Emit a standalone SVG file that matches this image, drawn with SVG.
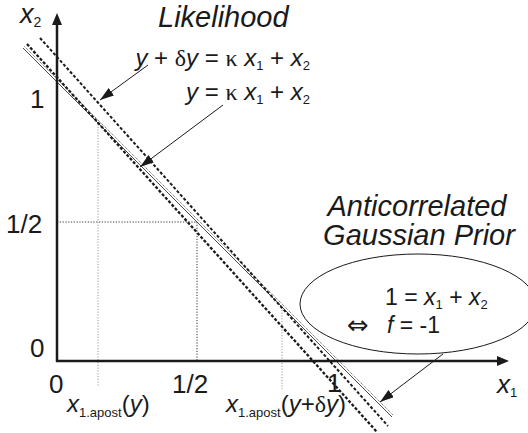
<svg xmlns="http://www.w3.org/2000/svg" width="528" height="433" viewBox="0 0 528 433">
<style>
text{font-family:"Liberation Sans","Arial",sans-serif;fill:#1a1a1a}
.it{font-style:italic}
.sym{font-family:"Liberation Serif","DejaVu Serif",serif;font-style:normal}
.arr{font-family:"DejaVu Sans","Noto Sans",sans-serif;font-size:26px}
.tick{font-size:26px}
.axis{stroke:#1a1a1a;stroke-width:2.5;fill:none}
.guide{stroke:#333;stroke-width:1;stroke-dasharray:1.2,1.6;fill:none}
.guideL{stroke:#999;stroke-width:1;stroke-dasharray:1.2,1.6;fill:none}
.dashA{stroke:#1a1a1a;stroke-width:2;stroke-dasharray:3,2;fill:none}
.dashB{stroke:#1a1a1a;stroke-width:2.3;stroke-dasharray:3,1.8;fill:none}
.thin{stroke:#1a1a1a;stroke-width:0.8;fill:none}
.thinDot{stroke:#333;stroke-width:0.8;stroke-dasharray:1,1;fill:none}
.conn{stroke:#1a1a1a;stroke-width:1;fill:none}
</style>
<defs>
<marker id="ah" markerUnits="userSpaceOnUse" markerWidth="16" markerHeight="10" refX="14" refY="4.5" orient="auto">
<path d="M0,0 L14,4.5 L0,9 z" fill="#1a1a1a"/>
</marker>
<marker id="axh" markerUnits="userSpaceOnUse" markerWidth="14" markerHeight="12" refX="0" refY="5" orient="auto">
<path d="M0,0 L12,5 L0,10 z" fill="#1a1a1a"/>
</marker>
</defs>

<g id="guides">
<line class="guide" x1="57" y1="222" x2="197" y2="222"/>
<line class="guide" x1="197" y1="222" x2="197" y2="361"/>
<line class="guideL" x1="98" y1="124" x2="98" y2="386"/>
<line class="guideL" x1="282" y1="307" x2="282" y2="389"/>
</g>

<g id="axes">
<line class="axis" x1="57" y1="362" x2="57" y2="25" marker-end="url(#axh)"/>
<line class="axis" x1="56" y1="361" x2="497" y2="361" marker-end="url(#axh)"/>
</g>

<g id="prior-line">
<line class="thin" x1="23" y1="48" x2="392" y2="417"/>
<line class="thinDot" x1="24.5" y1="46.5" x2="393.5" y2="415.5"/>
</g>
<g id="likelihood-y">
<line class="dashB" x1="27" y1="44" x2="377" y2="432"/>
</g>
<g id="likelihood-ydy">
<line class="dashA" x1="40" y1="38" x2="388" y2="426"/>
</g>

<g id="prior-ellipse">
<ellipse cx="418" cy="304" rx="118" ry="50" fill="none" stroke="#1a1a1a" stroke-width="1"/>
<text x="385" y="305" font-size="23">1 = <tspan class="it">x</tspan><tspan font-size="13" dy="4">1</tspan><tspan dy="-4"> + </tspan><tspan class="it">x</tspan><tspan font-size="13" dy="4">2</tspan></text>
<text class="arr" x="347" y="334">⇔</text>
<text x="387" y="333" font-size="23"><tspan class="it">f</tspan> = -1</text>
</g>

<g id="labels">
<text x="20" y="23" font-size="27"><tspan class="it">x</tspan><tspan font-size="14" dy="4">2</tspan></text>
<text x="497" y="393" font-size="26"><tspan class="it">x</tspan><tspan font-size="13" dy="4">1</tspan></text>
<text class="it" x="158" y="27" font-size="29">Likelihood</text>
<text class="it" x="417" y="216" font-size="29" text-anchor="middle">Anticorrelated</text>
<text class="it" x="419" y="245" font-size="29" text-anchor="middle">Gaussian Prior</text>
<text x="310" y="66" font-size="24" text-anchor="end"><tspan class="it">y</tspan> + <tspan class="sym">δ</tspan><tspan class="it">y</tspan> = <tspan class="sym">κ</tspan> <tspan class="it">x</tspan><tspan font-size="13" dy="4">1</tspan><tspan dy="-4"> + </tspan><tspan class="it">x</tspan><tspan font-size="13" dy="4">2</tspan></text>
<text x="310" y="100" font-size="24" text-anchor="end"><tspan class="it">y</tspan> = <tspan class="sym">κ</tspan> <tspan class="it">x</tspan><tspan font-size="13" dy="4">1</tspan><tspan dy="-4"> + </tspan><tspan class="it">x</tspan><tspan font-size="13" dy="4">2</tspan></text>
<text class="tick" x="30" y="108">1</text>
<text class="tick" x="6" y="233">1/2</text>
<text class="tick" x="30" y="357">0</text>
<text class="tick" x="49" y="393">0</text>
<text class="tick" x="172" y="393">1/2</text>
<text class="tick" x="327" y="392">1</text>
<text x="67" y="412" font-size="24"><tspan class="it">x</tspan><tspan font-size="13" dy="5">1.apost</tspan><tspan dy="-5">(</tspan><tspan class="it">y</tspan>)</text>
<text x="226" y="412" font-size="24"><tspan class="it">x</tspan><tspan font-size="13" dy="5">1.apost</tspan><tspan dy="-5">(</tspan><tspan class="it">y</tspan>+<tspan class="sym">δ</tspan><tspan class="it">y</tspan>)</text>
</g>

<g id="connectors">
<line class="conn" x1="148" y1="65" x2="100" y2="100" marker-end="url(#ah)"/>
<line class="conn" x1="223" y1="105" x2="140" y2="167" marker-end="url(#ah)"/>
<line class="conn" x1="443" y1="354" x2="380" y2="402" marker-end="url(#ah)"/>
</g>
</svg>
